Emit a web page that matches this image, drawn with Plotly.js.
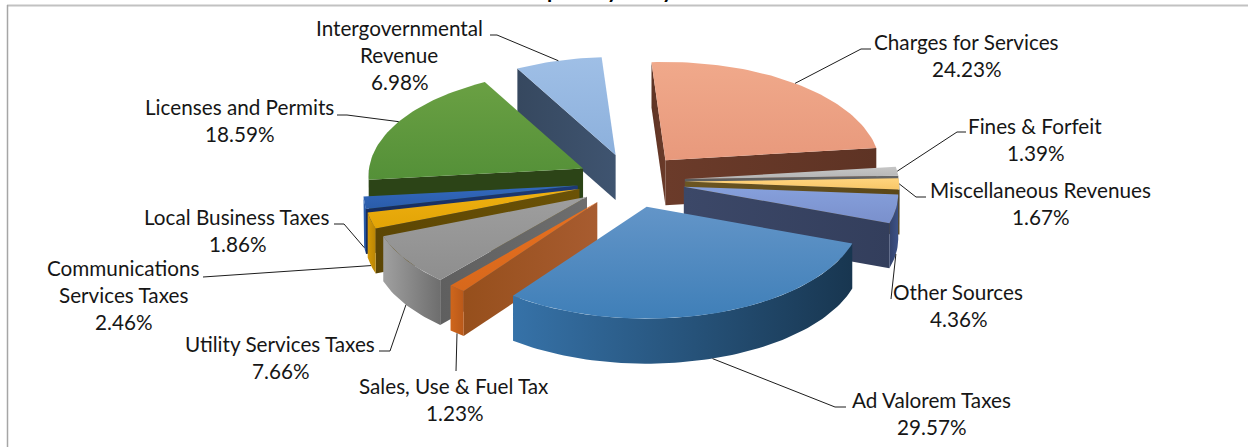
<!DOCTYPE html>
<html>
<head>
<meta charset="utf-8">
<script src="https://cdn.plot.ly/plotly-3.0.1.min.js"></script>
<style>html,body{margin:0;padding:0;background:#fff}#chart{width:1248px;height:447px}</style>
</head>
<body>
<div id="chart"></div>
<script>
// Revenue sources, clockwise from the top of the pie
const categories = [
  "Charges for Services", "Fines & Forfeit", "Miscellaneous Revenues", "Other Sources",
  "Ad Valorem Taxes", "Sales, Use & Fuel Tax", "Utility Services Taxes",
  "Communications Services Taxes", "Local Business Taxes", "Licenses and Permits",
  "Intergovernmental Revenue"
];
const shares = [24.23, 1.39, 1.67, 4.36, 29.57, 1.23, 7.66, 2.46, 1.86, 18.59, 6.98];

// Wrapped category text, one entry per drawn line
const labelLines = [
  ["Charges for Services"], ["Fines & Forfeit"], ["Miscellaneous Revenues"], ["Other Sources"],
  ["Ad Valorem Taxes"], ["Sales, Use & Fuel Tax"], ["Utility Services Taxes"],
  ["Communications", "Services Taxes"], ["Local Business Taxes"], ["Licenses and Permits"],
  ["Intergovernmental", "Revenue"]
];
// Centre x and first-line y of each label
const labelX = [966, 1035, 1040, 958, 931, 454, 280, 123, 237, 239, 399];
const labelY = [42, 126, 190, 292, 400, 386, 344, 268, 217, 107, 28];
// Bend points of the leader lines, from the pie outward
const leaderBends = [
  [[861, 49], [871, 49]], [[957, 132], [966, 132]], [[916, 197], [926, 197]], [[891, 299]],
  [[835, 407], [846, 407]], [[456, 371]], [[390, 351], [379, 351]], [[213, 277], [203, 277]],
  [[344, 224], [334, 224]], [[347, 115], [337, 115]], [[497, 35], [490, 35]]
];

// Colours: top face [upper, lower], wall [left, right], cut face [toward apex, toward rim]
const topColors = [
  ["#f0a98b", "#e8997c"], ["#c6c6c6", "#b4b4b4"], ["#ffd47e", "#f8c768"], ["#86a0dc", "#7a90cc"],
  ["#6395c8", "#3f7fb8"], ["#e8701f", "#d7681c"], ["#9e9e9e", "#8e8e8e"], ["#efb011", "#e2a406"],
  ["#3369bd", "#2a5caa"], ["#6aa043", "#549038"], ["#9fbfe6", "#8cb0dc"]
];
const wallColors = [
  ["#6b3b2a", "#6b3b2a"], ["#5c5c5c", "#5c5c5c"], ["#3a4a70", "#3a4a70"], ["#33436c", "#3d5288"],
  ["#3672a8", "#183650"], ["#cf661c", "#b9591a"], ["#a0a0a0", "#6e6e6e"], ["#d69a06", "#b98504"],
  ["#2c62b4", "#234f96"], ["#2c4417", "#2c4417"], ["#3f5470", "#3f5470"]
];
const cutColors = [
  ["#6b3b2a", "#5e3324"], ["#5c5c5c", "#666666"], ["#6b5522", "#5a4718"], ["#3c4868", "#333e5c"],
  ["#2e5c86", "#2e5c86"], ["#a85c30", "#964f1c"], ["#6e6e6e", "#5f5f5f"], ["#6b5206", "#5c4604"],
  ["#1d3a78", "#162c5c"], ["#2c4417", "#2c4417"], ["#3f5470", "#36485f"]
];

// Painter's order, far slices first
const drawOrder = [10, 9, 0, 8, 7, 6, 1, 2, 3, 5, 4];
// Pie geometry in screen pixels
const pie = { cx: 631, cy: 181, explodeX: 54, explodeY: 27, rx: 214, ry: 105, persp: 0.065, depth: 45, startDeg: -4 };

const rad = d => d * Math.PI / 180;
const total = shares.reduce((a, b) => a + b, 0);
let running = 0;
const slices = shares.map(v => {
  const a0 = pie.startDeg + running / total * 360;
  running += v;
  const a1 = pie.startDeg + running / total * 360;
  const mid = (a0 + a1) / 2;
  return {
    a0, a1, mid,
    ax: pie.cx + pie.explodeX * Math.sin(rad(mid)),
    ay: pie.cy - pie.explodeY * Math.cos(rad(mid))
  };
});
function rim(s, deg) {
  const u = Math.sin(rad(deg)), v = -Math.cos(rad(deg));
  const k = 1 + pie.persp * v;
  return [s.ax + pie.rx * u * k, s.ay + pie.ry * v * k];
}
function arc(s, from, to) {
  const n = Math.max(2, Math.ceil(Math.abs(to - from) / 1.5));
  const pts = [];
  for (let i = 0; i <= n; i++) pts.push(rim(s, from + (to - from) * i / n));
  return pts;
}
function polygon(pts, stops, kind) {
  return {
    type: "scatter", mode: "lines", hoverinfo: "skip", showlegend: false,
    x: pts.map(p => p[0]).concat(pts[0][0]),
    y: pts.map(p => p[1]).concat(pts[0][1]),
    line: { width: 0 }, fill: "toself",
    fillgradient: { type: kind, colorscale: [[0, stops[0]], [1, stops[1]]] }
  };
}
const drop = p => [p[0], p[1] + pie.depth];

const traces = [];
drawOrder.forEach(i => {
  const s = slices[i];
  const apex = [s.ax, s.ay];
  // Cut faces that turn toward the viewer
  if (Math.sin(rad(s.a0)) < 0) {
    const r = rim(s, s.a0);
    traces.push(polygon([apex, r, drop(r), drop(apex)], [cutColors[i][1], cutColors[i][0]], "horizontal"));
  }
  if (Math.sin(rad(s.a1)) > 0) {
    const r = rim(s, s.a1);
    traces.push(polygon([apex, r, drop(r), drop(apex)], cutColors[i], "horizontal"));
  }
  // Outer wall: the front half of the rim only
  const from = Math.max(s.a0, 90), to = Math.min(s.a1, 270);
  if (to > from) {
    const top = arc(s, from, to);
    traces.push(polygon(top.concat(top.map(drop).reverse()), wallColors[i], "horizontal"));
  }
  // Top face; the y axis runs downward, so the gradient stops are given bottom first
  traces.push(polygon([apex].concat(arc(s, s.a0, s.a1)), [topColors[i][1], topColors[i][0]], "vertical"));
});

// Leader lines start on the rim at each slice's middle angle
slices.forEach((s, i) => {
  let p = rim(s, s.mid);
  if (-Math.cos(rad(s.mid)) > 0.1) p = drop(p);
  const pts = [p].concat(leaderBends[i]);
  traces.push({
    type: "scatter", mode: "lines", hoverinfo: "skip", showlegend: false,
    x: pts.map(q => q[0]), y: pts.map(q => q[1]),
    line: { color: "#1c1c1c", width: 1 }
  });
});

// Labels, one annotation per line so the leading stays even
const labelFont = { family: "Lato, sans-serif", size: 20.7, color: "#161616" };
const annotations = [];
const lineGap = 27;
categories.forEach((c, i) => {
  const lines = labelLines[i].concat(shares[i].toFixed(2) + "%");
  lines.forEach((t, j) => annotations.push({
    x: labelX[i], y: labelY[i] + j * lineGap, xref: "x", yref: "y", text: t,
    showarrow: false, xanchor: "center", yanchor: "middle", font: labelFont, borderpad: 0
  }));
});
// Heading sits above the frame, so only its descenders reach the page
const headingTails = ["p", "y", "y"];
const headingX = [553, 613, 668];
headingTails.forEach((t, i) => annotations.push({
  x: headingX[i], y: 3, xref: "x", yref: "y", text: t, showarrow: false,
  xanchor: "center", yanchor: "bottom", borderpad: 0,
  font: { family: "Lato, sans-serif", size: 21, color: "#000", weight: 700 }
}));

const layout = {
  width: 1248, height: 447, autosize: false,
  margin: { l: 0, r: 0, t: 0, b: 0, pad: 0 },
  paper_bgcolor: "#fff", plot_bgcolor: "#fff", showlegend: false,
  xaxis: { range: [0, 1248], visible: false, fixedrange: true },
  yaxis: { range: [447, 0], visible: false, fixedrange: true },
  annotations,
  shapes: [
    { type: "line", x0: 7, x1: 1248, y0: 5.5, y1: 5.5, line: { color: "#c2c2c2", width: 2 } },
    { type: "line", x0: 7.5, x1: 7.5, y0: 5, y1: 447, line: { color: "#a6a6a6", width: 1.5 } }
  ]
};
Plotly.newPlot("chart", traces, layout, { displayModeBar: false, staticPlot: true });
</script>
</body>
</html>
